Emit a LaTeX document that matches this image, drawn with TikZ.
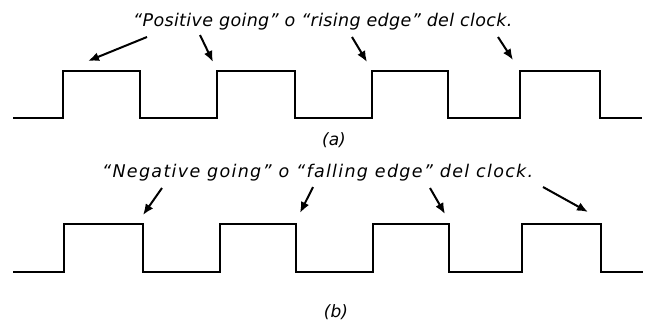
\documentclass[tikz,border=0pt]{standalone}
\usepackage{fontspec}
\setmainfont{DejaVu Sans}
\newfontfamily\capAfont{DejaVu Sans}[LetterSpace=2]
\newfontfamily\capBfont{DejaVu Sans}[LetterSpace=7.5]
\usetikzlibrary{arrows.meta}
\begin{document}
\begin{tikzpicture}[x=1pt,y=-1pt,
  wave/.style={line width=2.7pt,line join=miter},
  pointer/.style={line width=2pt,-{Latex[length=11pt,width=9pt]}},
  caption/.style={inner sep=0pt,anchor=base west},
  tag/.style={font=\itshape\fontsize{17}{20}\selectfont,inner sep=0pt}]
\useasboundingbox (0,0) rectangle (647,324);
% (a) rising edges
\draw[wave](13,118)--(63,118)--(63,71)--(140,71)--(140,118)--(217,118)--(217,71)
  --(295,71)--(295,118)--(372,118)--(372,71)--(448,71)--(448,118)--(520,118)
  --(520,71)--(600,71)--(600,118)--(642,118);
\node[caption,font=\capAfont\itshape\fontsize{17.5}{20}\selectfont] (textA) at (133,27) {“Positive going” o “rising edge” del clock.};
\node[tag] (labelA) at (334,140) {(a)};
\foreach \n/\sx/\sy/\ex/\ey in {1/147/37/88/61,2/200/35/213/62,3/352/37/367/62,4/498/37/513/60}{
  \coordinate (sa\n) at (\sx,\sy);
  \coordinate (ea\n) at (\ex,\ey);
  \draw[pointer](sa\n)--(ea\n);
}
% (b) falling edges
\draw[wave](13,272)--(64,272)--(64,224)--(143,224)--(143,272)--(220,272)--(220,224)
  --(296,224)--(296,272)--(373,272)--(373,224)--(449,224)--(449,272)--(522,272)
  --(522,224)--(601,224)--(601,272)--(643,272);
\node[caption,font=\capBfont\itshape\fontsize{17.5}{20}\selectfont] (textB) at (102,177) {“Negative going” o “falling edge” del clock.};
\node[tag] (labelB) at (336,312) {(b)};
\foreach \n/\sx/\sy/\ex/\ey in {1/162/188/143/215,2/313/187/300/213,3/430/188/445/214,4/543/187/588/212}{
  \coordinate (sb\n) at (\sx,\sy);
  \coordinate (eb\n) at (\ex,\ey);
  \draw[pointer](sb\n)--(eb\n);
}
\end{tikzpicture}
\end{document}
